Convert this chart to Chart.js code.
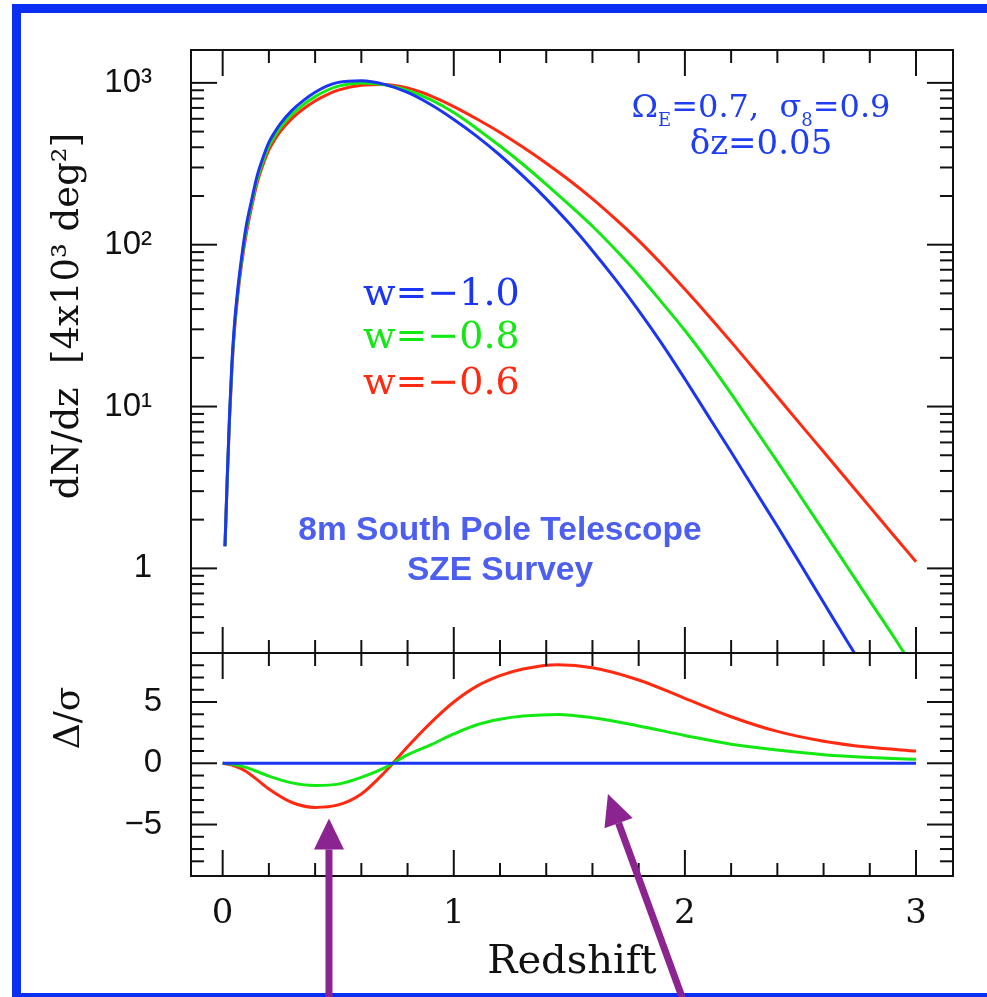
<!DOCTYPE html>
<html>
<head>
<meta charset="utf-8">
<script src="https://cdn.jsdelivr.net/npm/chart.js@4"></script>
<style>
  html, body { margin: 0; padding: 0; background: #fff; overflow: hidden; }
  #wrap { position: relative; width: 987px; height: 997px; }
  .frame { position: absolute; left: 12px; top: 4px; width: 1000px; height: 998px;
           border: 9px solid #0a2ef2; box-sizing: border-box; }
  canvas { position: absolute; left: 0; top: 0; }
</style>
</head>
<body>
<div id="wrap">
  <div class="frame"></div>
  <canvas id="chart" width="987" height="997"></canvas>
</div>
<script>
// --- data ---
const redshiftTop = [0.01, 0.02, 0.03, 0.04, 0.05, 0.065, 0.08, 0.1, 0.125, 0.15, 0.175, 0.2, 0.225, 0.25, 0.3, 0.35, 0.4, 0.45, 0.5,
  0.6, 0.7, 0.8, 0.9, 1.0, 1.1, 1.2, 1.3, 1.4, 1.5, 1.6, 1.7, 1.8, 1.9, 2.0, 2.1, 2.2, 2.3, 2.4, 2.5, 2.6, 2.7, 2.8, 2.9, 3.0];
const dndzBlue  = [1.37, 3.72, 9.12, 18.6, 30.9, 52.5, 79.4, 126, 188, 269, 347, 429, 495, 560, 676, 780, 875, 955, 1007,
  1030, 979, 873, 735, 594, 467, 357, 265, 192, 135, 91.8, 60.8, 39.2, 24.5, 14.8, 8.79, 5.24, 3.08, 1.82, 1.06, 0.615, 0.358, 0.211, 0.124, 0.075];
const dndzGreen = [1.37, 3.63, 8.81, 17.8, 29.5, 50.1, 75.9, 119, 179, 255, 329, 406, 469, 530, 638, 735, 822, 897, 955,
  998, 973, 897, 787, 655, 521, 407, 313, 236, 176, 130, 93, 65, 44, 29.5, 19.1, 12.0, 7.4, 4.57, 2.79, 1.70, 1.035, 0.63, 0.385, 0.23];
const dndzRed   = [1.37, 3.55, 8.51, 17.0, 28.2, 47.9, 72.4, 112, 170, 243, 313, 385, 445, 501, 603, 692, 773, 843, 902,
  966, 977, 929, 832, 714, 598, 494, 400, 319, 250, 192, 144, 106, 75.7, 53, 36.7, 25.1, 17.0, 11.5, 7.76, 5.25, 3.55, 2.40, 1.62, 1.10];

const redshiftBottom = [0, 0.05, 0.1, 0.15, 0.2, 0.3, 0.4, 0.5, 0.6, 0.7, 0.8, 0.9, 1.0, 1.1, 1.2, 1.3, 1.45, 1.6, 1.8, 2.0, 2.2, 2.4, 2.6, 2.8, 3.0];
const devBlue  = [0, 0, 0, 0, 0, 0, 0, 0, 0, 0, 0, 0, 0, 0, 0, 0, 0, 0, 0, 0, 0, 0, 0, 0, 0];
const devGreen = [0, -0.1, -0.34, -0.68, -1.05, -1.6, -1.81, -1.7, -1.15, -0.37, 0.68, 1.5, 2.39, 3.14, 3.59, 3.85, 3.99, 3.72, 3.05, 2.27, 1.55, 1.08, 0.7, 0.47, 0.32];
const devRed   = [0, -0.2, -0.65, -1.35, -2.1, -3.2, -3.6, -3.4, -2.5, -0.75, 1.35, 3.3, 5.0, 6.3, 7.16, 7.7, 8.05, 7.8, 6.8, 5.3, 3.8, 2.6, 1.8, 1.3, 1.0];

// tick values and labels
const xTicks = [0, 1, 2, 3];
const xTickLabels = ['0', '1', '2', '3'];
const xMinorTicks = [0.2, 0.4, 0.6, 0.8, 1.2, 1.4, 1.6, 1.8, 2.2, 2.4, 2.6, 2.8];
const logTicks = [1, 10, 100, 1000];
const logTickLabels = ['1', '10\u00B9', '10\u00B2', '10\u00B3'];
const logMinorTicks = [0.4, 0.5, 0.6, 0.7, 0.8, 0.9, 2, 3, 4, 5, 6, 7, 8, 9, 20, 30, 40, 50, 60, 70, 80, 90, 200, 300, 400, 500, 600, 700, 800, 900];
const devTicks = [-5, 0, 5];
const devTickLabels = ['\u22125', '0', '5'];
const devMinorTicks = [-8, -7, -6, -4, -3, -2, -1, 1, 2, 3, 4, 6, 7, 8];

// arrows (redshift, delta/sigma)
const arrowTipZ  = [0.46, 1.667];
const arrowTipV  = [-4.5, -2.5];
const arrowTailZ = [0.46, 1.99];
const arrowTailV = [-19.2, -19.2];

const BLUE = '#1b36f2';
const GREEN = '#12e812';
const RED = '#ff2a10';
const TEXT_BLUE = '#1f3ef2';
const SERIF = '"DejaVu Serif", serif';
const SANS = '"Liberation Sans", Arial, sans-serif';

const pts = (xs, ys) => xs.map((x, i) => ({ x, y: ys[i] }));

// clip each curve to its own panel
const panelClip = {
  id: 'panelClip',
  beforeDatasetDraw(chart, args) {
    const ys = chart.scales[args.meta.yAxisID];
    const a = chart.chartArea;
    chart.ctx.save();
    chart.ctx.beginPath();
    chart.ctx.rect(a.left, ys.top, a.right - a.left, ys.bottom - ys.top);
    chart.ctx.clip();
  },
  afterDatasetDraw(chart) {
    chart.ctx.restore();
  }
};

// boxes and inward ticks on all sides
const frameTicks = {
  id: 'frameTicks',
  afterDatasetsDraw(chart) {
    const { ctx, chartArea, scales } = chart;
    const xs = scales.x, yTop = scales.y, yBot = scales.y2;
    const L = chartArea.left, R = chartArea.right;
    const MAJ = 26, MIN = 13;
    ctx.save();
    ctx.strokeStyle = '#111';
    ctx.lineWidth = 2;
    const seg = (x0, y0, x1, y1) => { ctx.beginPath(); ctx.moveTo(x0, y0); ctx.lineTo(x1, y1); ctx.stroke(); };
    [yTop, yBot].forEach(ys => {
      ctx.strokeRect(L, ys.top, R - L, ys.bottom - ys.top);
      xTicks.forEach(v => { const p = xs.getPixelForValue(v); seg(p, ys.top, p, ys.top + MAJ); seg(p, ys.bottom, p, ys.bottom - MAJ); });
      xMinorTicks.forEach(v => { const p = xs.getPixelForValue(v); seg(p, ys.top, p, ys.top + MIN); seg(p, ys.bottom, p, ys.bottom - MIN); });
    });
    logTicks.forEach(v => { const p = yTop.getPixelForValue(v); seg(L, p, L + MAJ, p); seg(R, p, R - MAJ, p); });
    logMinorTicks.forEach(v => { const p = yTop.getPixelForValue(v); seg(L, p, L + MIN, p); seg(R, p, R - MIN, p); });
    devTicks.forEach(v => { const p = yBot.getPixelForValue(v); seg(L, p, L + MAJ, p); seg(R, p, R - MAJ, p); });
    devMinorTicks.forEach(v => { const p = yBot.getPixelForValue(v); seg(L, p, L + MIN, p); seg(R, p, R - MIN, p); });
    ctx.restore();
  }
};

// text labels and arrows
const annotations = {
  id: 'annotations',
  afterDraw(chart) {
    const { ctx, scales } = chart;
    ctx.save();
    ctx.textBaseline = 'alphabetic';

    // cosmology parameters
    const main = '32px ' + SERIF, sub = '18px ' + SERIF;
    const pieces = [['\u03A9', main, 0], ['E', sub, 9], ['=0.7,  \u03C3', main, 0], ['8', sub, 9], ['=0.9', main, 0]];
    let total = 0;
    pieces.forEach(p => { ctx.font = p[1]; total += ctx.measureText(p[0]).width; });
    let cx = 761 - total / 2;
    ctx.fillStyle = TEXT_BLUE;
    ctx.textAlign = 'left';
    pieces.forEach(p => { ctx.font = p[1]; ctx.fillText(p[0], cx, 117 + p[2]); cx += ctx.measureText(p[0]).width; });
    ctx.font = '34px ' + SERIF;
    ctx.textAlign = 'center';
    ctx.fillText('\u03B4z=0.05', 761, 154);

    // w labels
    ctx.font = '38px ' + SERIF;
    ctx.textAlign = 'left';
    ctx.fillStyle = BLUE;  ctx.fillText('w=\u22121.0', 363, 305);
    ctx.fillStyle = GREEN; ctx.fillText('w=\u22120.8', 363, 348);
    ctx.fillStyle = RED;   ctx.fillText('w=\u22120.6', 363, 394);

    // survey label
    ctx.font = 'bold 33.5px ' + SANS;
    ctx.textAlign = 'center';
    ctx.fillStyle = '#4d5ff0';
    ctx.fillText('8m South Pole Telescope', 500, 540);
    ctx.fillText('SZE Survey', 500, 580);

    // y axis titles
    ctx.fillStyle = '#111';
    ctx.font = '37px ' + SERIF;
    ctx.translate(68, 316);
    ctx.rotate(-Math.PI / 2);
    ctx.textBaseline = 'middle';
    ctx.fillText('dN/dz  [4x10\u00B3 deg\u00B2]', 0, 0);
    ctx.setTransform(1, 0, 0, 1, 0, 0);
    ctx.translate(70, 718);
    ctx.rotate(-Math.PI / 2);
    ctx.font = '36px ' + SERIF;
    ctx.fillText('\u0394/\u03C3', 0, 0);
    ctx.setTransform(1, 0, 0, 1, 0, 0);

    // arrows
    const xs = scales.x, yb = scales.y2;
    ctx.fillStyle = '#8b2391';
    ctx.strokeStyle = '#8b2391';
    arrowTipZ.forEach((z, i) => {
      const tx = xs.getPixelForValue(z), ty = yb.getPixelForValue(arrowTipV[i]);
      const bx = xs.getPixelForValue(arrowTailZ[i]), by = yb.getPixelForValue(arrowTailV[i]);
      const ang = Math.atan2(ty - by, tx - bx);
      const head = 31, half = 15;
      const hx = tx - head * Math.cos(ang), hy = ty - head * Math.sin(ang);
      ctx.lineWidth = 7;
      ctx.beginPath(); ctx.moveTo(bx, by); ctx.lineTo(hx, hy); ctx.stroke();
      ctx.beginPath();
      ctx.moveTo(tx, ty);
      ctx.lineTo(hx + half * Math.sin(ang), hy - half * Math.cos(ang));
      ctx.lineTo(hx - half * Math.sin(ang), hy + half * Math.cos(ang));
      ctx.closePath();
      ctx.fill();
    });
    ctx.restore();
  }
};

const topLine = (data, color) => ({ data, borderColor: color, yAxisID: 'y' });
const botLine = (data, color) => ({ data, borderColor: color, yAxisID: 'y2' });
const noPadY = s => { s.width = 191; s.paddingTop = 0; s.paddingBottom = 0; };

new Chart(document.getElementById('chart'), {
  type: 'line',
  data: {
    datasets: [
      topLine(pts(redshiftTop, dndzBlue), BLUE),
      topLine(pts(redshiftTop, dndzGreen), GREEN),
      topLine(pts(redshiftTop, dndzRed), RED),
      botLine(pts(redshiftBottom, devBlue), BLUE),
      botLine(pts(redshiftBottom, devGreen), GREEN),
      botLine(pts(redshiftBottom, devRed), RED)
    ]
  },
  options: {
    responsive: false,
    animation: false,
    layout: { padding: { top: 50, right: 34, left: 0, bottom: 0 } },
    elements: {
      point: { radius: 0 },
      line: { borderWidth: 3, cubicInterpolationMode: 'monotone', fill: false }
    },
    plugins: { legend: { display: false }, tooltip: { enabled: false } },
    scales: {
      x: {
        type: 'linear',
        min: -0.137,
        max: 3.16,
        grid: { display: false, drawTicks: false },
        border: { display: false },
        afterBuildTicks: s => { s.ticks = xTicks.map(v => ({ value: v })); },
        afterFit: s => { s.height = 121; s.paddingLeft = 0; s.paddingRight = 0; },
        ticks: {
          autoSkip: false, maxRotation: 0, padding: 18, color: '#111',
          font: { family: SERIF, size: 34 },
          callback: (v, i) => xTickLabels[i]
        },
        title: {
          display: true, text: 'Redshift', color: '#111',
          font: { family: SERIF, size: 40 }, padding: { top: 0, bottom: 10 }
        }
      },
      y2: {
        type: 'linear',
        position: 'left',
        stack: 'panels',
        stackWeight: 223,
        weight: 0,
        min: -9.2,
        max: 9,
        grid: { display: false, drawTicks: false },
        border: { display: false },
        afterBuildTicks: s => { s.ticks = devTicks.map(v => ({ value: v })); },
        afterFit: noPadY,
        ticks: {
          autoSkip: false, padding: 29, color: '#111',
          font: { family: SANS, size: 33 },
          callback: (v, i) => devTickLabels[i]
        }
      },
      y: {
        type: 'logarithmic',
        position: 'left',
        stack: 'panels',
        stackWeight: 603,
        weight: 1,
        min: 0.31,
        max: 1596,
        grid: { display: false, drawTicks: false },
        border: { display: false },
        afterBuildTicks: s => { s.ticks = logTicks.map(v => ({ value: v })); },
        afterFit: noPadY,
        ticks: {
          autoSkip: false, padding: 39, color: '#111',
          font: { family: SANS, size: 33 },
          callback: (v, i) => logTickLabels[i]
        }
      }
    }
  },
  plugins: [panelClip, frameTicks, annotations]
});
</script>
</body>
</html>
